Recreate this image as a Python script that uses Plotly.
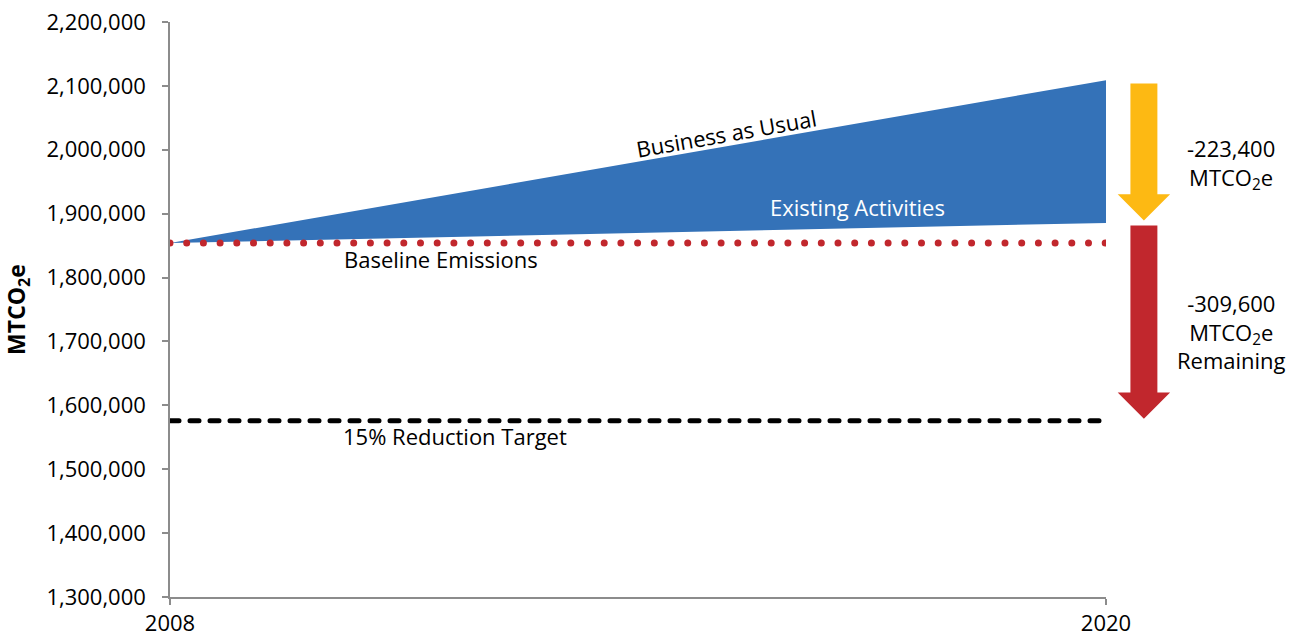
import plotly.graph_objects as go

# Emissions data (MTCO2e)
years = [2008, 2020]
baseline_level = 1854000
business_as_usual = [1854000, 2108900]
existing_activities = [1854000, 1885500]
target_pct = 0.15
reduction_target = baseline_level * (1 - target_pct)
existing_reduction = 223400
remaining_reduction = 309600

y_ticks = list(range(1300000, 2200001, 100000))

FONT = "Open Sans"
FS = 22
BLUE = "#3472B8"
GOLD = "#FDB913"
RED = "#C1272D"
AXIS = "#8C8C8C"

fig = go.Figure()

# Blue wedge between existing-activities level and business-as-usual
fig.add_trace(go.Scatter(x=years, y=existing_activities, mode="lines",
                         line=dict(width=0, color=BLUE), hoverinfo="skip"))
fig.add_trace(go.Scatter(x=years, y=business_as_usual, mode="lines",
                         line=dict(width=0, color=BLUE), fill="tonexty",
                         fillcolor=BLUE, hoverinfo="skip"))

# Baseline (dotted) and reduction target (dashed)
fig.add_trace(go.Scatter(x=years, y=[baseline_level] * 2, mode="lines",
                         line=dict(color=RED, width=7, dash="0px,16.7px"),
                         hoverinfo="skip"))
fig.add_trace(go.Scatter(x=years, y=[reduction_target] * 2, mode="lines",
                         line=dict(color="black", width=5, dash="9px,11px"),
                         hoverinfo="skip"))


def down_arrow(top, tip, color, cx=1.0405, shaft=0.0144, head=0.0280, head_len=41000):
    neck = tip + head_len
    path = (f"M {cx - shaft} {top} L {cx + shaft} {top} L {cx + shaft} {neck} "
            f"L {cx + head} {neck} L {cx} {tip} L {cx - head} {neck} "
            f"L {cx - shaft} {neck} Z")
    return dict(type="path", xref="paper", yref="y", path=path,
                fillcolor=color, line=dict(width=0), layer="above")


bau_2020 = business_as_usual[-1]
existing_2020 = bau_2020 - existing_reduction
shapes = [
    down_arrow(bau_2020 - 5000, existing_2020 + 4000, GOLD),
    down_arrow(existing_2020 - 4000, existing_2020 - remaining_reduction + 3000, RED),
]

txt = dict(family=FONT, size=FS, color="black")
annotations = [
    dict(x=2015.14, y=2026800, text="Business as Usual", textangle=-10,
         showarrow=False, font=txt),
    dict(x=2016.81, y=1911100, text="Existing Activities", showarrow=False,
         font=dict(family=FONT, size=FS, color="white")),
    dict(x=2011.47, y=1829800, text="Baseline Emissions", showarrow=False, font=txt),
    dict(x=2011.65, y=1551300, text=f"{int(target_pct * 100)}% Reduction Target",
         showarrow=False, font=txt),
    dict(xref="paper", x=1.1336, y=1978200, xanchor="center", yanchor="middle",
         text=f"-{existing_reduction:,}<br>MTCO<sub>2</sub>e",
         showarrow=False, font=txt),
    dict(xref="paper", x=1.1336, y=1714800, xanchor="center", yanchor="middle",
         text=f"-{remaining_reduction:,}<br>MTCO<sub>2</sub>e<br>Remaining",
         showarrow=False, font=txt),
]

fig.update_layout(
    width=1302, height=638,
    margin=dict(l=170, r=196, t=22, b=41),
    paper_bgcolor="white", plot_bgcolor="white",
    showlegend=False,
    font=dict(family=FONT, size=FS, color="black"),
    shapes=shapes,
    annotations=annotations,
    xaxis=dict(range=[2008, 2020], tickvals=years, ticktext=[str(y) for y in years],
               automargin=False,
               showgrid=False, zeroline=False, showline=True, linecolor=AXIS,
               linewidth=1.5, ticks="outside", ticklen=6, tickcolor=AXIS,
               tickwidth=1.5, tickfont=dict(family=FONT, size=FS)),
    yaxis=dict(range=[1300000, 2200000], tickvals=y_ticks, tickformat=",d",
               automargin=False, ticklabelstandoff=12,
               showgrid=False, zeroline=False, showline=True, linecolor=AXIS,
               linewidth=1.5, ticks="outside", ticklen=6, tickcolor=AXIS,
               tickwidth=1.5, tickfont=dict(family=FONT, size=FS),
               title=dict(text="<b>MTCO<sub>2</sub>e</b>",
                          font=dict(family=FONT, size=23), standoff=14)),
)

# Round caps give the dotted baseline round dots and soft dash ends
post = """
var gd = document.getElementById('{plot_id}');
gd.querySelectorAll('.scatterlayer path.js-line').forEach(function (p) {
  if (p.style.strokeDasharray && p.style.strokeDasharray !== 'none') {
    p.style.strokeLinecap = 'round';
  }
});
"""

fig.write_html("out.html", post_script=post)
